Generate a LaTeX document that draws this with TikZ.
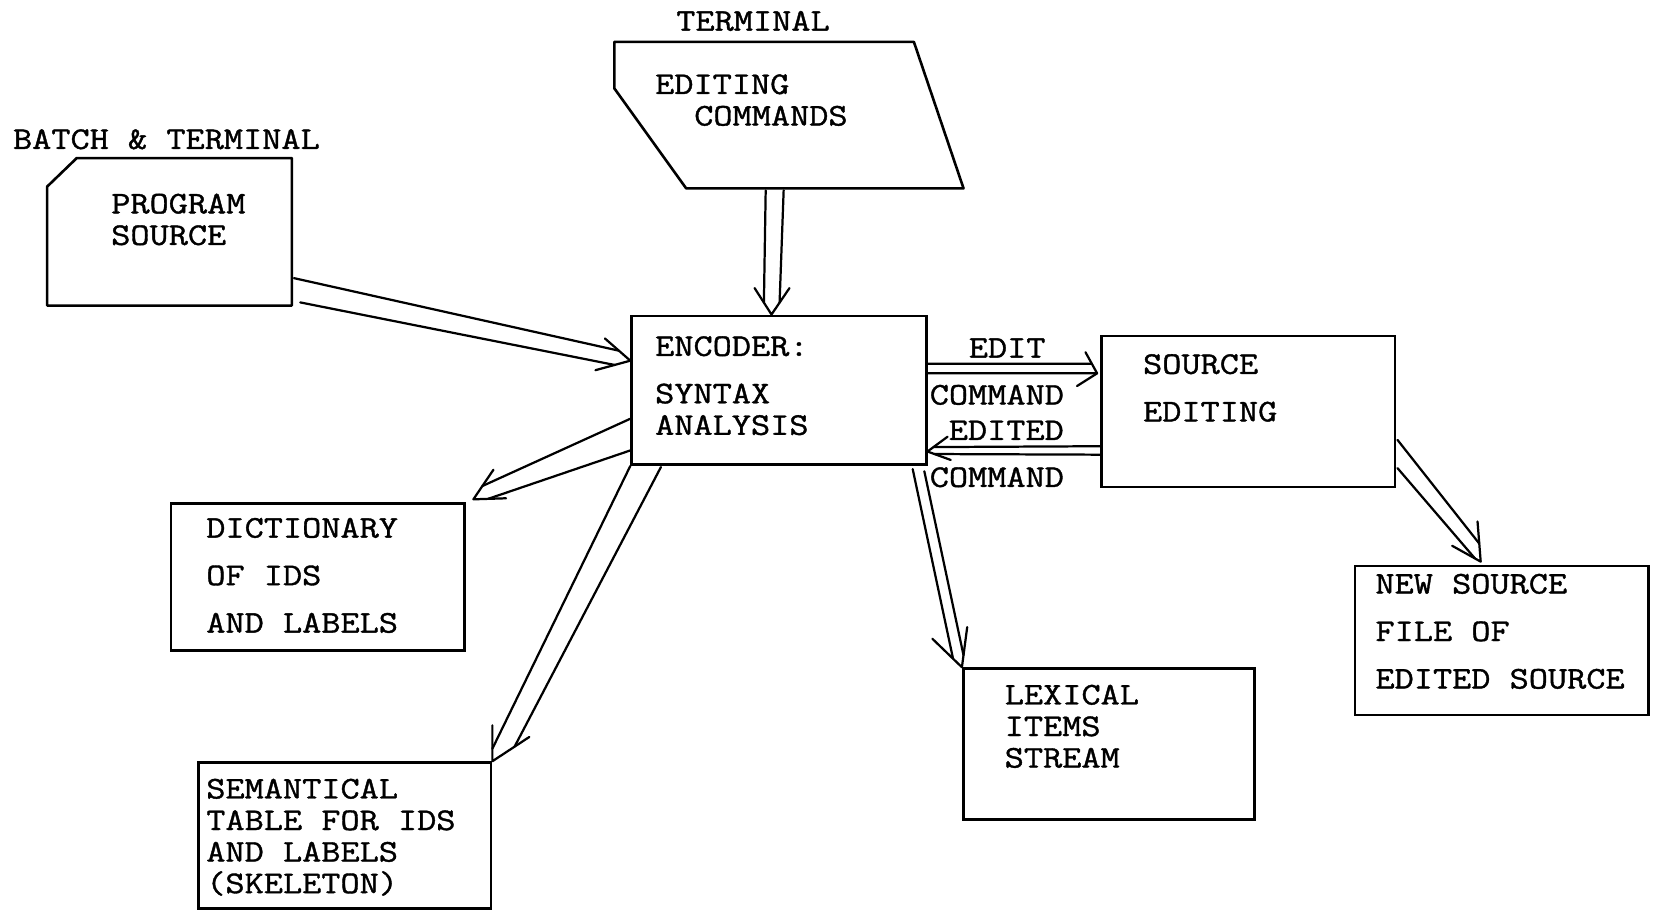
\documentclass[tikz,border=0pt]{standalone}
\usepackage{fontspec}
\newfontfamily\typer[FakeBold=1.2, FakeStretch=1.18]{Latin Modern Mono}
\usetikzlibrary{calc}

\begin{document}
\begin{tikzpicture}[x=0.02cm, y=-0.02cm,
    box/.style={draw, line width=1.4pt, inner sep=0pt},
    card/.style={inner sep=0pt},
    outline/.style={line width=1.4pt, line join=round},
    flow/.style={line width=1.2pt, line cap=round, line join=round},
    tag/.style={font=\typer\fontsize{17}{17}\selectfont, inner sep=0pt, anchor=north west, align=left},
    tagwide/.style={tag, font=\typer\fontsize{17}{25.6}\selectfont}]
    \useasboundingbox (0,0) rectangle (1568,863);

    % Inputs
    \node[card, minimum width=4.62cm, minimum height=2.78cm] (prog) at (160.5,219.5) {};
    \draw[outline] (prog.south west) -- (prog.south east) -- (prog.north east)
        -- ($(prog.north west)+(28,0)$) -- ($(prog.north west)+(0,27)$) -- cycle;
    \node[card, minimum width=6.6cm, minimum height=2.76cm] (cmd) at (747,109) {};
    \draw[outline] (cmd.north west) -- ($(cmd.north east)+(-47,0)$) -- (cmd.south east)
        -- ($(cmd.south west)+(68,0)$) -- ($(cmd.north west)+(0,44)$) -- cycle;

    % Boxes
    \node[box, minimum width=5.58cm, minimum height=2.82cm] (enc) at (737.5,369.5) {};
    \node[box, minimum width=5.56cm, minimum height=2.86cm] (srcedit) at (1182,389.5) {};
    \node[box, minimum width=5.56cm, minimum height=2.78cm] (dict) at (301,546.5) {};
    \node[box, minimum width=5.54cm, minimum height=2.76cm] (sem) at (326.5,791) {};
    \node[box, minimum width=5.52cm, minimum height=2.86cm] (lex) at (1050,704.5) {};
    \node[box, minimum width=5.56cm, minimum height=2.82cm] (newsrc) at (1422,606.5) {};

    % Texts
    \node[tag] (batchlbl) at (12,122) {BATCH \& TERMINAL};
    \node[tag] (termlbl) at (640,10) {TERMINAL};
    \node[tag] (progtxt) at (105,183) {PROGRAM\\SOURCE};
    \node[tag] (cmdtxt) at (620,70) {EDITING\\\hspace*{0.74cm}COMMANDS};
    \node[tag] (enctxt) at (620,318) {ENCODER:\\[0.3cm]SYNTAX\\ANALYSIS};
    \node[tagwide] (srctxt) at (1082,335) {SOURCE\\EDITING};
    \node[tag] (editlbl) at (917,320) {EDIT};
    \node[tag] (cmdlbl) at (880,364) {COMMAND};
    \node[tag] (editedlbl) at (898,398) {EDITED};
    \node[tag] (cmdlbltwo) at (880,442) {COMMAND};
    \node[tagwide] (dicttxt) at (195,490) {DICTIONARY\\OF IDS\\AND LABELS};
    \node[tag] (semtxt) at (195,737) {SEMANTICAL\\TABLE FOR IDS\\AND LABELS\\(SKELETON)};
    \node[tag] (lextxt) at (951,648) {LEXICAL\\ITEMS\\STREAM};
    \node[tagwide] (newtxt) at (1302,543) {NEW SOURCE\\FILE OF\\EDITED SOURCE};

    % Program source -> encoder
    \coordinate (a1) at ($(prog.south east)+(2,-26)$);
    \coordinate (b1) at ($(prog.south east)+(8,-3)$);
    \coordinate (t1) at ($(enc.west)+(0,-28)$);
    \coordinate (u1) at ($(t1)+(-24,-21)$);
    \coordinate (v1) at ($(t1)+(-33,9)$);
    \draw[flow] (a1) -- ($(t1)!0.45!(u1)$) (b1) -- ($(t1)!0.45!(v1)$);
    \draw[flow] (u1) -- (t1) -- (v1);

    % Editing commands -> encoder
    \coordinate (a2) at ($(cmd.south)+(-22,2)$);
    \coordinate (b2) at ($(cmd.south)+(-5,2)$);
    \coordinate (t2) at ($(enc.north)+(-7,0)$);
    \coordinate (u2) at ($(t2)+(-16,-25)$);
    \coordinate (v2) at ($(t2)+(17,-25)$);
    \draw[flow] (a2) -- ($(t2)!0.45!(u2)$) (b2) -- ($(t2)!0.45!(v2)$);
    \draw[flow] (u2) -- (t2) -- (v2);

    % Encoder -> dictionary
    \coordinate (a3) at ($(enc.west)+(0,27)$);
    \coordinate (b3) at ($(enc.west)+(0,57)$);
    \coordinate (t3) at ($(dict.north east)+(7,-3)$);
    \coordinate (u3) at ($(t3)+(19,-28)$);
    \coordinate (v3) at ($(t3)+(31,-1)$);
    \draw[flow] (a3) -- ($(t3)!0.45!(u3)$) (b3) -- ($(t3)!0.45!(v3)$);
    \draw[flow] (u3) -- (t3) -- (v3);

    % Encoder -> semantical table
    \coordinate (a4) at (enc.south west);
    \coordinate (b4) at ($(enc.south west)+(29,1)$);
    \coordinate (t4) at (sem.north east);
    \coordinate (u4) at ($(t4)+(0,-34)$);
    \coordinate (v4) at ($(t4)+(35,-23)$);
    \draw[flow] (a4) -- ($(t4)!0.35!(u4)$) (b4) -- ($(t4)!0.6!(v4)$);
    \draw[flow] (u4) -- (t4) -- (v4);

    % Encoder -> lexical items
    \coordinate (a5) at ($(enc.south east)+(-14,3)$);
    \coordinate (b5) at ($(enc.south east)+(-3,5)$);
    \coordinate (t5) at (lex.north west);
    \coordinate (u5) at ($(t5)+(-28,-27)$);
    \coordinate (v5) at ($(t5)+(5,-38)$);
    \draw[flow] (a5) -- ($(t5)!0.3!(u5)$) (b5) -- ($(t5)!0.3!(v5)$);
    \draw[flow] (u5) -- (t5) -- (v5);

    % Encoder <-> source editing
    \coordinate (a6) at ($(enc.east)+(0,-25)$);
    \coordinate (b6) at ($(enc.east)+(0,-16)$);
    \coordinate (t6) at ($(srcedit.west)+(-3,-36)$);
    \coordinate (u6) at ($(t6)+(-11,-20)$);
    \coordinate (v6) at ($(t6)+(-19,12)$);
    \draw[flow] (a6) -- ($(t6)!0.45!(u6)$) (b6) -- (t6);
    \draw[flow] (u6) -- (t6) -- (v6);
    \coordinate (a7) at ($(srcedit.west)+(0,33)$);
    \coordinate (b7) at ($(srcedit.west)+(0,41)$);
    \coordinate (t7) at ($(enc.east)+(0,58)$);
    \coordinate (u7) at ($(t7)+(19,-14)$);
    \coordinate (v7) at ($(t7)+(22,8)$);
    \draw[flow] (a7) -- ($(t7)!0.3!(u7)$) (b7) -- ($(t7)!0.3!(v7)$);
    \draw[flow] (u7) -- (t7) -- (v7);

    % Source editing -> new source file
    \coordinate (a8) at ($(srcedit.east)+(1,27)$);
    \coordinate (b8) at ($(srcedit.south east)+(1,-19)$);
    \coordinate (t8) at ($(newsrc.north)+(-20,-3)$);
    \coordinate (u8) at ($(t8)+(-3,-38)$);
    \coordinate (v8) at ($(t8)+(-27,-15)$);
    \draw[flow] (a8) -- ($(t8)!0.45!(u8)$) (b8) -- ($(t8)!0.2!(v8)$);
    \draw[flow] (u8) -- (t8) -- (v8);
\end{tikzpicture}
\end{document}
